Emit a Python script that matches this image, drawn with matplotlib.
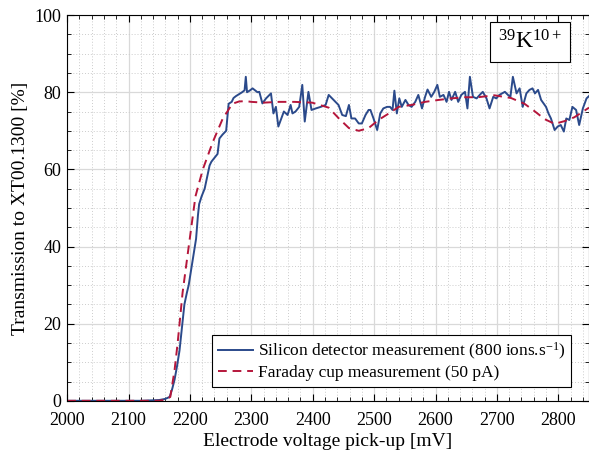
import matplotlib
matplotlib.use('Agg')
import matplotlib.pyplot as plt
from matplotlib.ticker import MultipleLocator

plt.rcParams['font.family'] = ['Liberation Serif', 'DejaVu Serif']
plt.rcParams['mathtext.fontset'] = 'custom'
plt.rcParams['mathtext.rm'] = 'Liberation Serif'
plt.rcParams['mathtext.it'] = 'Liberation Serif:italic'

si_v = [2000, 2040, 2080, 2120, 2150, 2160, 2167, 2171, 2175, 2179, 2183, 2187,
        2191, 2195, 2198, 2202, 2205, 2208, 2210, 2213, 2215, 2219, 2224, 2228,
        2232, 2235, 2240, 2245, 2248, 2253, 2259, 2263, 2268, 2271, 2275, 2280,
        2285, 2289, 2291, 2293, 2298, 2302, 2306, 2310, 2313, 2318, 2324, 2332,
        2336, 2340, 2344, 2348, 2353, 2359, 2364, 2367, 2372, 2378, 2383, 2387,
        2393, 2398, 2405, 2413, 2421, 2426, 2434, 2442, 2448, 2454, 2459, 2463,
        2469, 2475, 2480, 2486, 2491, 2494, 2499, 2505, 2510, 2515, 2521, 2526,
        2530, 2533, 2537, 2541, 2545, 2551, 2556, 2561, 2567, 2572, 2578, 2583,
        2587, 2593, 2598, 2603, 2607, 2613, 2618, 2622, 2626, 2632, 2637, 2642,
        2648, 2652, 2656, 2661, 2667, 2672, 2677, 2683, 2688, 2694, 2699, 2704,
        2713, 2718, 2722, 2726, 2732, 2737, 2742, 2748, 2753, 2758, 2762, 2767,
        2772, 2776, 2780, 2784, 2788, 2794, 2799, 2804, 2809, 2813, 2818, 2823,
        2829, 2834, 2840, 2846, 2850]
si_t = [0, 0, 0, 0, 0.2, 0.5, 1, 3, 5.5, 9, 13, 19,
        25, 28, 30, 34, 37, 40, 42, 48, 51, 53, 55, 58,
        61, 62, 63, 64, 68, 69, 70, 77, 77.5, 78.5, 79, 79.5,
        80, 80.5, 84, 80, 80.5, 81, 80.5, 80, 80.1, 77.1, 78.4, 79.7,
        74.5, 76.2, 71.1, 72.8, 75, 74.1, 76.7, 74.5, 75, 76.2, 81.9, 72.4,
        80.1, 75.4, 75.8, 76.2, 76.7, 79.3, 78, 76.7, 74.1, 73.8, 76.7, 73.2,
        73.2, 71.9, 71.9, 74.1, 75.4, 75.4, 73.2, 70.2, 74.5, 75.8, 76.2, 76.2,
        75.4, 80.4, 74.5, 78.4, 76.2, 78, 76.7, 76.2, 77.5, 79.3, 75.8, 78.8,
        80.7, 78.8, 80.1, 81.9, 78.8, 79.3, 77.5, 80.1, 78, 80.1, 77.5, 79.3,
        80.1, 75.8, 84, 78.8, 78.4, 79.3, 80.1, 78.4, 75.8, 78.8, 78.4, 79.3,
        80.1, 79.3, 78.8, 84, 79.7, 81, 76.2, 79.7, 80.6, 81, 79.7, 80.6,
        78, 77.1, 76.2, 74.5, 73.2, 70.2, 71.1, 71.5, 69.8, 73.2, 72.8, 76.2,
        75.4, 71.5, 75.8, 78.4, 79]

# Faraday cup measurement
fc_v = [2000, 2050, 2100, 2150, 2160, 2168, 2175, 2180, 2188, 2198, 2209, 2221,
        2237, 2253, 2269, 2280, 2291, 2300, 2320, 2345, 2370, 2399, 2426, 2442,
        2459, 2475, 2491, 2507, 2524, 2540, 2561, 2583, 2605, 2626, 2648, 2669,
        2696, 2723, 2745, 2762, 2778, 2794, 2810, 2826, 2850]
fc_t = [0, 0, 0, 0, 0.3, 1, 8, 15, 28, 40, 53, 60,
        67, 73, 77, 77.6, 77.7, 77.5, 77.3, 77.5, 77.5, 77.3, 76, 73.3,
        70.7, 70, 70.7, 72.8, 74.5, 76.2, 76.7, 77.5, 78, 78.4, 78.7, 78.7,
        79.2, 78.5, 77, 75, 73, 71.8, 72.5, 73.5, 76]

fig = plt.figure(figsize=(5.89, 4.57), dpi=100)
ax = fig.add_axes([0.114, 0.123, 0.886, 0.844])

ax.plot(si_v, si_t, color='#2b4a8b', lw=1.4,
        label='Silicon detector measurement (800 ions.s$^{-1}$)')
ax.plot(fc_v, fc_t, color='#b5163b', lw=1.4, ls=(0, (4.5, 3)),
        label='Faraday cup measurement (50 pA)')

ax.set_xlim(2000, 2850)
ax.set_ylim(0, 100)
ax.xaxis.set_major_locator(MultipleLocator(100))
ax.xaxis.set_minor_locator(MultipleLocator(20))
ax.yaxis.set_major_locator(MultipleLocator(20))
ax.yaxis.set_minor_locator(MultipleLocator(5))
ax.grid(which='major', color='#d9d9d9', lw=0.9, ls='-')
ax.grid(which='minor', color='#cccccc', lw=0.7, ls=(0, (1, 2)))
ax.set_axisbelow(True)
ax.tick_params(which='both', direction='in', top=True, right=True, labelsize=13)
ax.tick_params(axis='x', which='major', pad=8)
ax.tick_params(axis='y', which='major', pad=4)
ax.tick_params(which='major', length=5, width=0.8)
ax.tick_params(which='minor', length=3, width=0.6)
for s in ax.spines.values():
    s.set_linewidth(0.8)

ax.set_xlabel('Electrode voltage pick-up [mV]', fontsize=14, labelpad=3)
ax.set_ylabel('Transmission to XT00.1300 [%]', fontsize=14, labelpad=4)

leg = ax.legend(loc='lower right', bbox_to_anchor=(0.983, 0.012), fontsize=12.5,
                frameon=True, fancybox=False, edgecolor='black', framealpha=1,
                handlelength=2.0, handletextpad=0.3, borderpad=0.35,
                labelspacing=0.2)
leg.get_frame().set_linewidth(0.8)

ax.text(0.887, 0.93, '$^{39}$K$^{10+}$', transform=ax.transAxes, fontsize=17,
        ha='center', va='center',
        bbox=dict(boxstyle='square,pad=0.35', fc='white', ec='black', lw=0.8))

fig.savefig('out.png', dpi=100)
